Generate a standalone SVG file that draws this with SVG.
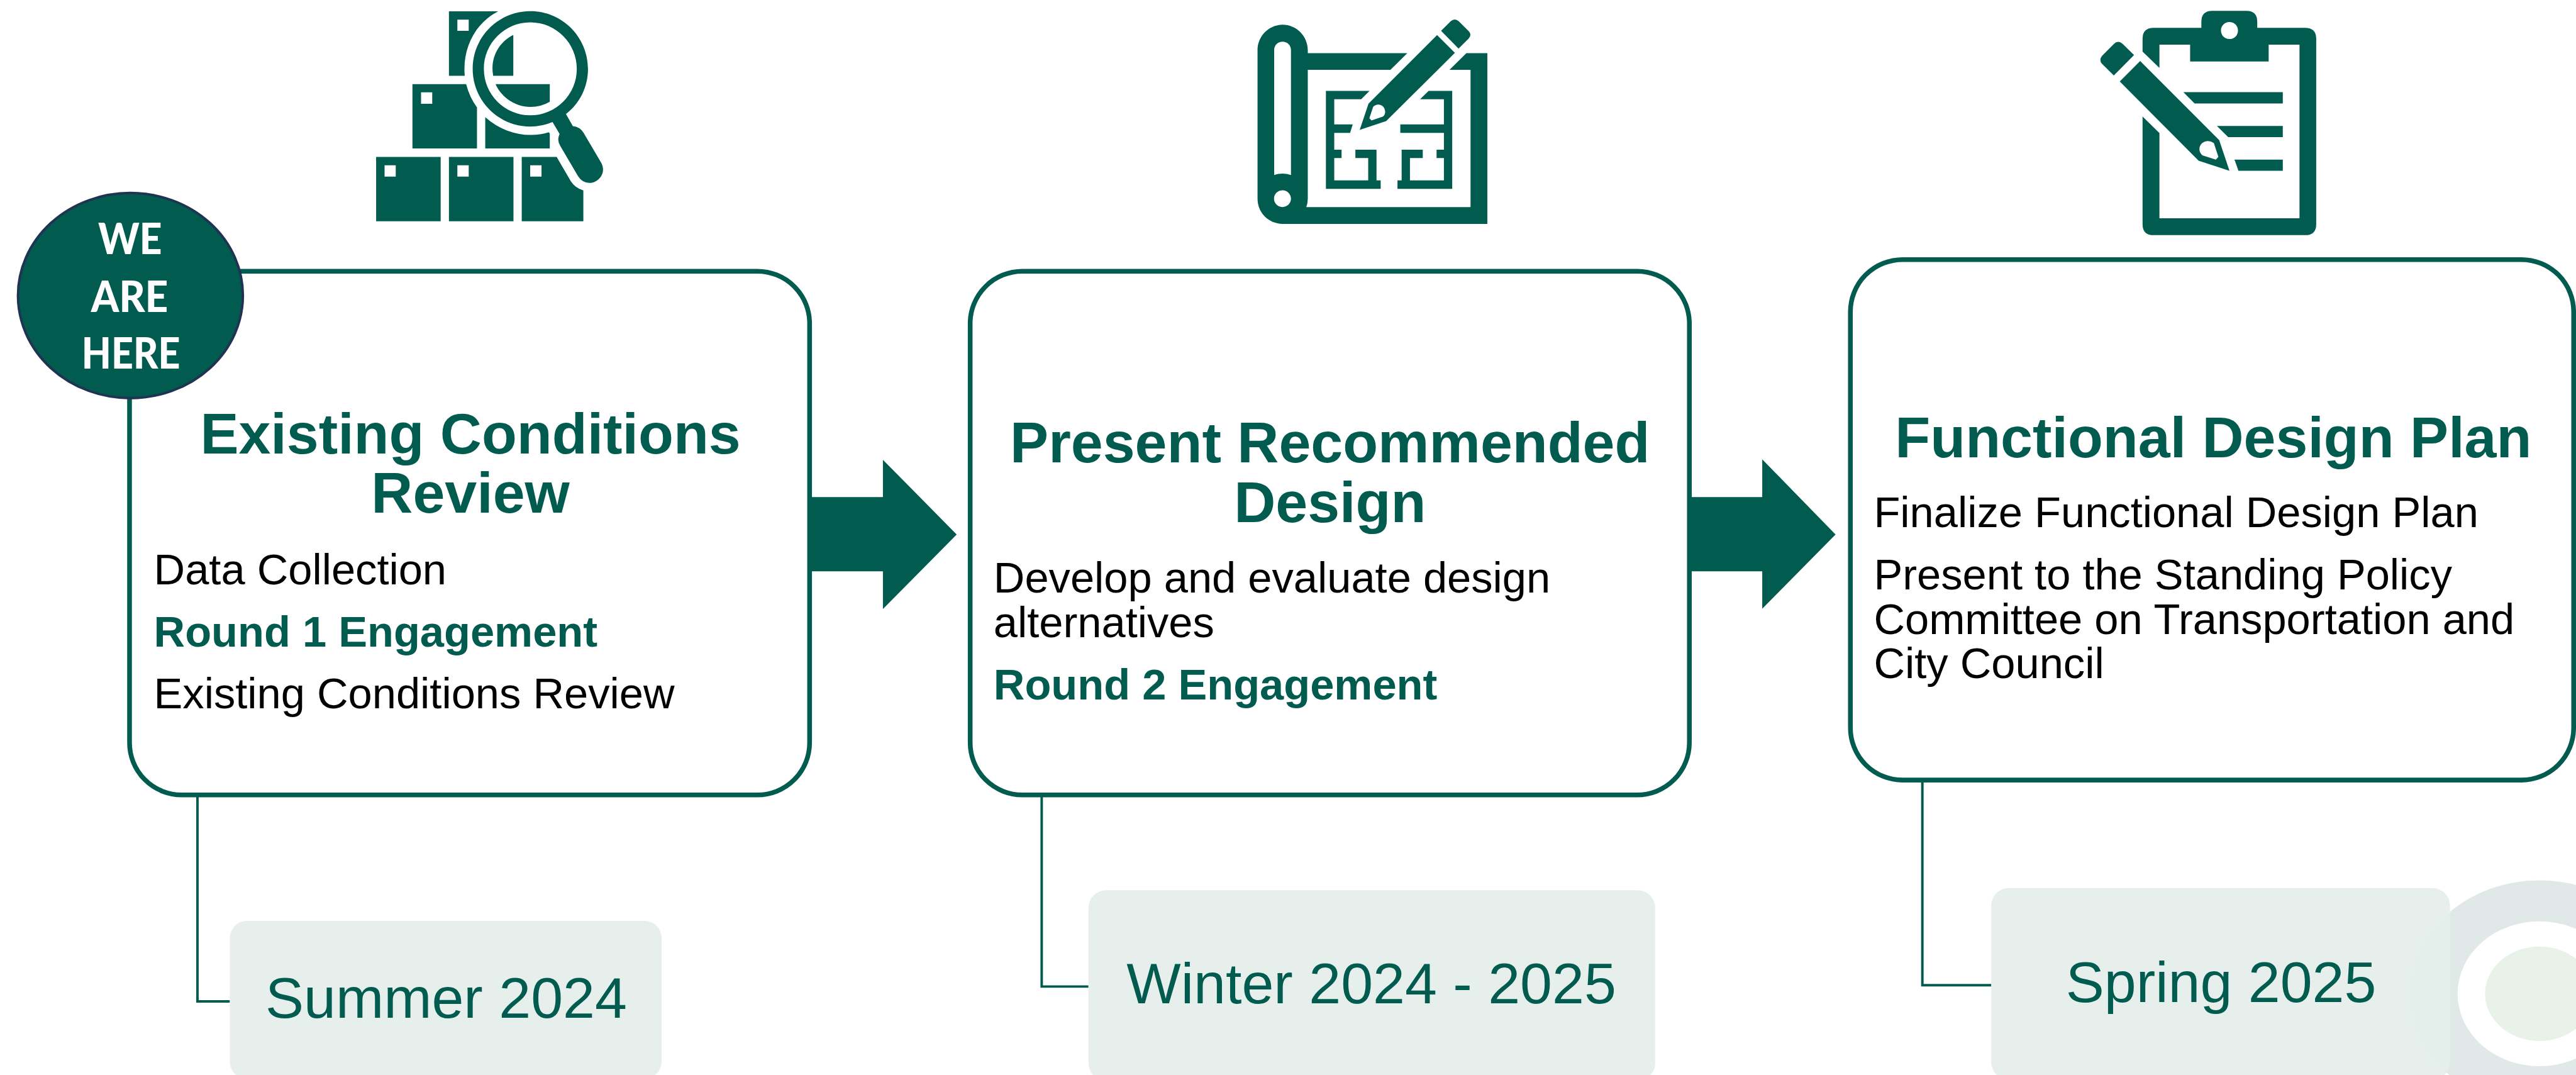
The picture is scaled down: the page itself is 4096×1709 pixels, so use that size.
<svg xmlns="http://www.w3.org/2000/svg" width="4096" height="1709" viewBox="0 0 4096 1709">
<style>
.g{fill:#025B4F}
.box{fill:#fff;stroke:#025B4F;stroke-width:10.5}
.lead{fill:none;stroke:#025B4F;stroke-width:5.5}
.tag{fill:#E4EEEB;fill-opacity:.935}
text{font-family:"Liberation Sans",Arial,sans-serif}
.t{font-size:128px;font-weight:700;fill:#025B4F;text-anchor:middle}
.b{font-size:96px;fill:#000}
.e{font-size:96px;font-weight:700;fill:#025B4F}
.d{font-size:128px;fill:#025B4F;text-anchor:middle}
.w{font-family:Lato,"Open Sans",sans-serif;font-size:95px;font-weight:900;fill:#fff;text-anchor:middle}
</style>
<rect width="4096" height="1709" fill="#fff"/>
<g transform="scale(0.71518)">
<g id="decor">
<path fill="#E0E9E8" fill-rule="evenodd" d="M5358,2209a288,252 0 1 1 576,0a288,252 0 1 1 -576,0ZM5464,2209a182,161 0 1 0 364,0a182,161 0 1 0 -364,0Z"/>
<ellipse cx="5646" cy="2209" rx="121" ry="105" fill="#E8F2E9"/>
</g>
<g id="icon-review" transform="translate(780,0) scale(.38265,.33333)" class="g">
<path fill-rule="evenodd" d="M147,1047H522V1476H147ZM196,1102V1178H261V1102Z"/>
<path fill-rule="evenodd" d="M570,1047H945V1476H570ZM619,1102V1178H685V1102Z"/>
<path fill-rule="evenodd" d="M993,1047H1196L1278,1208Q1303,1253 1351,1270V1476H993ZM1042,1102V1178H1108V1102Z"/>
<path fill-rule="evenodd" d="M358,561H670Q690,650 733,716V990H358ZM408,616V692H473V616Z"/>
<path d="M781,781C860,860 950,900 1045,900Q1100,900 1150,882L1156,890V990H781Z"/>
<path fill-rule="evenodd" d="M570,75H856C730,150 660,300 660,460Q660,485 662,505H570ZM619,131V206H685V131Z"/>
<path d="M944,233V505H827Q823,480 823,455C823,360 870,275 944,233Z"/>
<path d="M841,561H1156V678Q1105,713 1043,713C955,713 875,650 841,561Z"/>
<path fill-rule="evenodd" d="M708,459C708,246 858,74 1043,74C1228,74 1378,246 1378,459C1378,580 1330,690 1250,760L1290,841Q1330,845 1352,885L1452,1080C1490,1150 1440,1220 1386,1220Q1345,1220 1320,1175L1218,975Q1195,935 1213,893L1172,814Q1110,844 1043,844C858,844 708,672 708,459ZM773,459C773,630 894,769 1043,769C1192,769 1313,630 1313,459C1313,288 1192,149 1043,149C894,149 773,288 773,459Z"/>
</g>
<g id="icon-design" transform="translate(2760,20) scale(.36996,.33333)" class="g">
<path fill-rule="evenodd" d="M97,275C97,180 165,105 247,105C330,105 399,180 399,275V294H997L896,406H399V1265Q399,1295 390,1321H1377V406H1251L1352,294H1478V1433H247C165,1433 97,1360 97,1265ZM197,275V1107Q247,1088 298,1107V275C298,240 275,218 247,218C220,218 197,240 197,275ZM196,1265C196,1296 219,1321 247,1321C275,1321 298,1296 298,1265C298,1234 275,1209 247,1209C219,1209 196,1234 196,1265Z"/>
<path d="M508,546H770L720,602H558V770H669L653,826H558V938H602V994H558V1143H762V994H685V938H812V1143H837V1199H508Z"/>
<path d="M1125,546H1267V1199H938V1143H963V938H1090V994H1013V1143H1217V994H1173V938H1217V826H955V770H1217V602H1074Z"/>
<path fill-rule="evenodd" d="M1176,174L1283,292L870,748L711,806L764,631ZM792,652L769,729L782,743L851,717Q864,705 864,687C864,660 848,637 822,637Q805,637 792,652Z"/>
<path d="M1200,146L1258,82Q1282,58 1306,82L1365,147Q1388,172 1365,198L1305,264Z"/>
</g>
<g id="icon-plan" transform="translate(4630,0) scale(.35714,.34438)" class="g">
<path fill-rule="evenodd" d="M374,333V250Q374,180 444,180H740V140Q740,70 808,70H1020Q1088,70 1088,140V180H1385Q1455,180 1455,250V1448Q1455,1518 1385,1518H444Q374,1518 374,1448V752L479,859V1409H1351V288H1159V397H670V288H479V438ZM862,197C862,228 885,252 915,252C945,252 968,228 968,197C968,166 945,142 915,142C885,142 862,166 862,197Z"/>
<path d="M628,595H1247V668H698Z"/>
<path d="M837,813H1247V885H907Z"/>
<path d="M946,1030H1247V1102H971Z"/>
<path fill-rule="evenodd" d="M359,394L851,904L915,1102L723,1037L232,526ZM818,924Q800,911 782,911C755,911 728,930 728,963Q728,985 747,1003L830,1030L846,1013Z"/>
<path d="M321,355L195,487L122,412Q100,388 122,360L196,283Q222,258 250,283Z"/>
</g>
<g id="connectors">
<path class="lead" d="M439,1767V2226H511"/>
<path class="lead" d="M2316,1767V2193H2420"/>
<path class="lead" d="M4274,1735V2190H4427"/>
<path class="g" d="M1795,1105H1963V1022L2127,1188L1963,1354V1270H1795Z"/>
<path class="g" d="M3751,1105H3918V1021L4081,1188L3918,1353V1270H3751Z"/>
</g>
<g id="node-existing">
<rect class="box" x="288" y="603" width="1512" height="1164" rx="116"/>
<text class="t" x="1046" y="1008">Existing Conditions</text>
<text class="t" x="1046" y="1140">Review</text>
<text class="b" x="342" y="1299">Data Collection</text>
<text class="e" x="342" y="1437">Round 1 Engagement</text>
<text class="b" x="342" y="1575">Existing Conditions Review</text>
</g>
<g id="node-present">
<rect class="box" x="2157" y="603" width="1599" height="1164" rx="116"/>
<text class="t" x="2957" y="1028">Present Recommended</text>
<text class="t" x="2957" y="1160">Design</text>
<text class="b" x="2209" y="1317">Develop and evaluate design</text>
<text class="b" x="2209" y="1416">alternatives</text>
<text class="e" x="2209" y="1555">Round 2 Engagement</text>
</g>
<g id="node-functional">
<rect class="box" x="4114" y="577" width="1608" height="1157" rx="116"/>
<text class="t" x="4921" y="1016">Functional Design Plan</text>
<text class="b" x="4166" y="1172">Finalize Functional Design Plan</text>
<text class="b" x="4166" y="1310">Present to the Standing Policy</text>
<text class="b" x="4166" y="1409">Committee on Transportation and</text>
<text class="b" x="4166" y="1508">City Council</text>
</g>
<g id="marker-here">
<ellipse cx="290" cy="657" rx="250" ry="228" fill="#025B4F" stroke="#1F3352" stroke-width="5.5"/>
<text class="w" x="289" y="565" textLength="142" lengthAdjust="spacingAndGlyphs">WE</text>
<text class="w" x="288" y="693" textLength="171" lengthAdjust="spacingAndGlyphs">ARE</text>
<text class="w" x="291" y="820" textLength="219" lengthAdjust="spacingAndGlyphs">HERE</text>
</g>
<g id="date-summer">
<rect class="tag" x="511" y="2047" width="960" height="351" rx="38"/>
<text class="d" x="992" y="2263">Summer 2024</text>
</g>
<g id="date-winter">
<rect class="tag" x="2420" y="1979" width="1260" height="423" rx="39"/>
<text class="d" x="3049" y="2230">Winter 2024 - 2025</text>
</g>
<g id="date-spring">
<rect class="tag" x="4427" y="1974" width="1020" height="426" rx="39"/>
<text class="d" x="4938" y="2227">Spring 2025</text>
</g>
</g>
</svg>
